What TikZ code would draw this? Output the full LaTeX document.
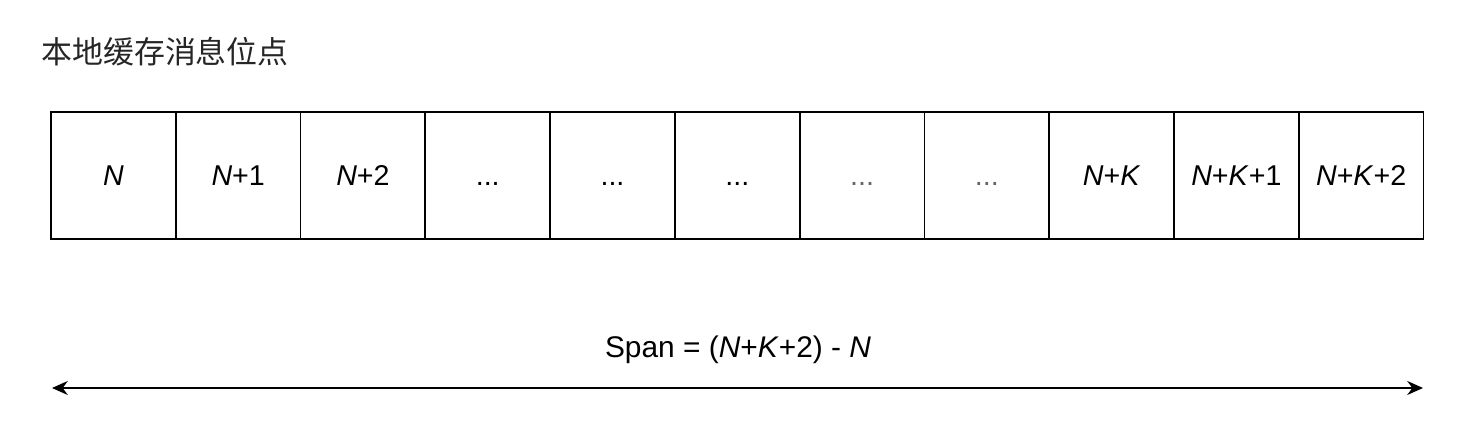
\documentclass[tikz,border=0pt]{standalone}
\usepackage{fontspec}
\setmainfont{Liberation Sans}
\newfontfamily\cjk{Noto Sans CJK SC}
\usetikzlibrary{positioning}
\usetikzlibrary{arrows.meta}

\tikzset{
  cell/.style={draw, line width=1pt, minimum width=2.496cm, minimum height=2.54cm,
    inner sep=0pt, outer sep=0pt, text height=11.6pt, text depth=0pt,
    font=\fontsize{16.3}{19}\selectfont},
  faint/.style={text=black!60},
  spanline/.style={line width=1pt, {Stealth[length=9pt,width=8pt]}-{Stealth[length=9pt,width=8pt]}}
}

\begin{document}
\begin{tikzpicture}[x=0.02cm,y=0.02cm]

  \useasboundingbox (0,0) rectangle (1470,428);

  \node[anchor=west, inner sep=0pt, text=black!85, font=\cjk\fontsize{17.6}{20}\selectfont]
    (title) at (41,376) {本地缓存消息位点};

  \node[cell] (n0) at (113.4,252.5) {\textit{N}};
  \node[cell, right=0pt of n0] (n1) {\textit{N}+1};
  \node[cell, right=0pt of n1] (n2) {\textit{N}+2};
  \node[cell, right=0pt of n2] (d1) {...};
  \node[cell, right=0pt of d1] (d2) {...};
  \node[cell, right=0pt of d2] (d3) {...};
  \node[cell, faint, right=0pt of d3] (d4) {...};
  \node[cell, faint, right=0pt of d4] (d5) {...};
  \node[cell, right=0pt of d5] (k0) {\textit{N}+\textit{K}};
  \node[cell, right=0pt of k0] (k1) {\textit{N}+\textit{K}+1};
  \node[cell, right=0pt of k1] (k2) {\textit{N}+\textit{K}+2};

  \node[font=\fontsize{17}{20}\selectfont] (span) at (738,78)
    {Span = (\textit{N}+\textit{K}+2) - \textit{N}};

  \coordinate (left) at (52,40);
  \coordinate (right) at (1423,40);
  \draw[spanline] (left) -- (right);

\end{tikzpicture}
\end{document}
